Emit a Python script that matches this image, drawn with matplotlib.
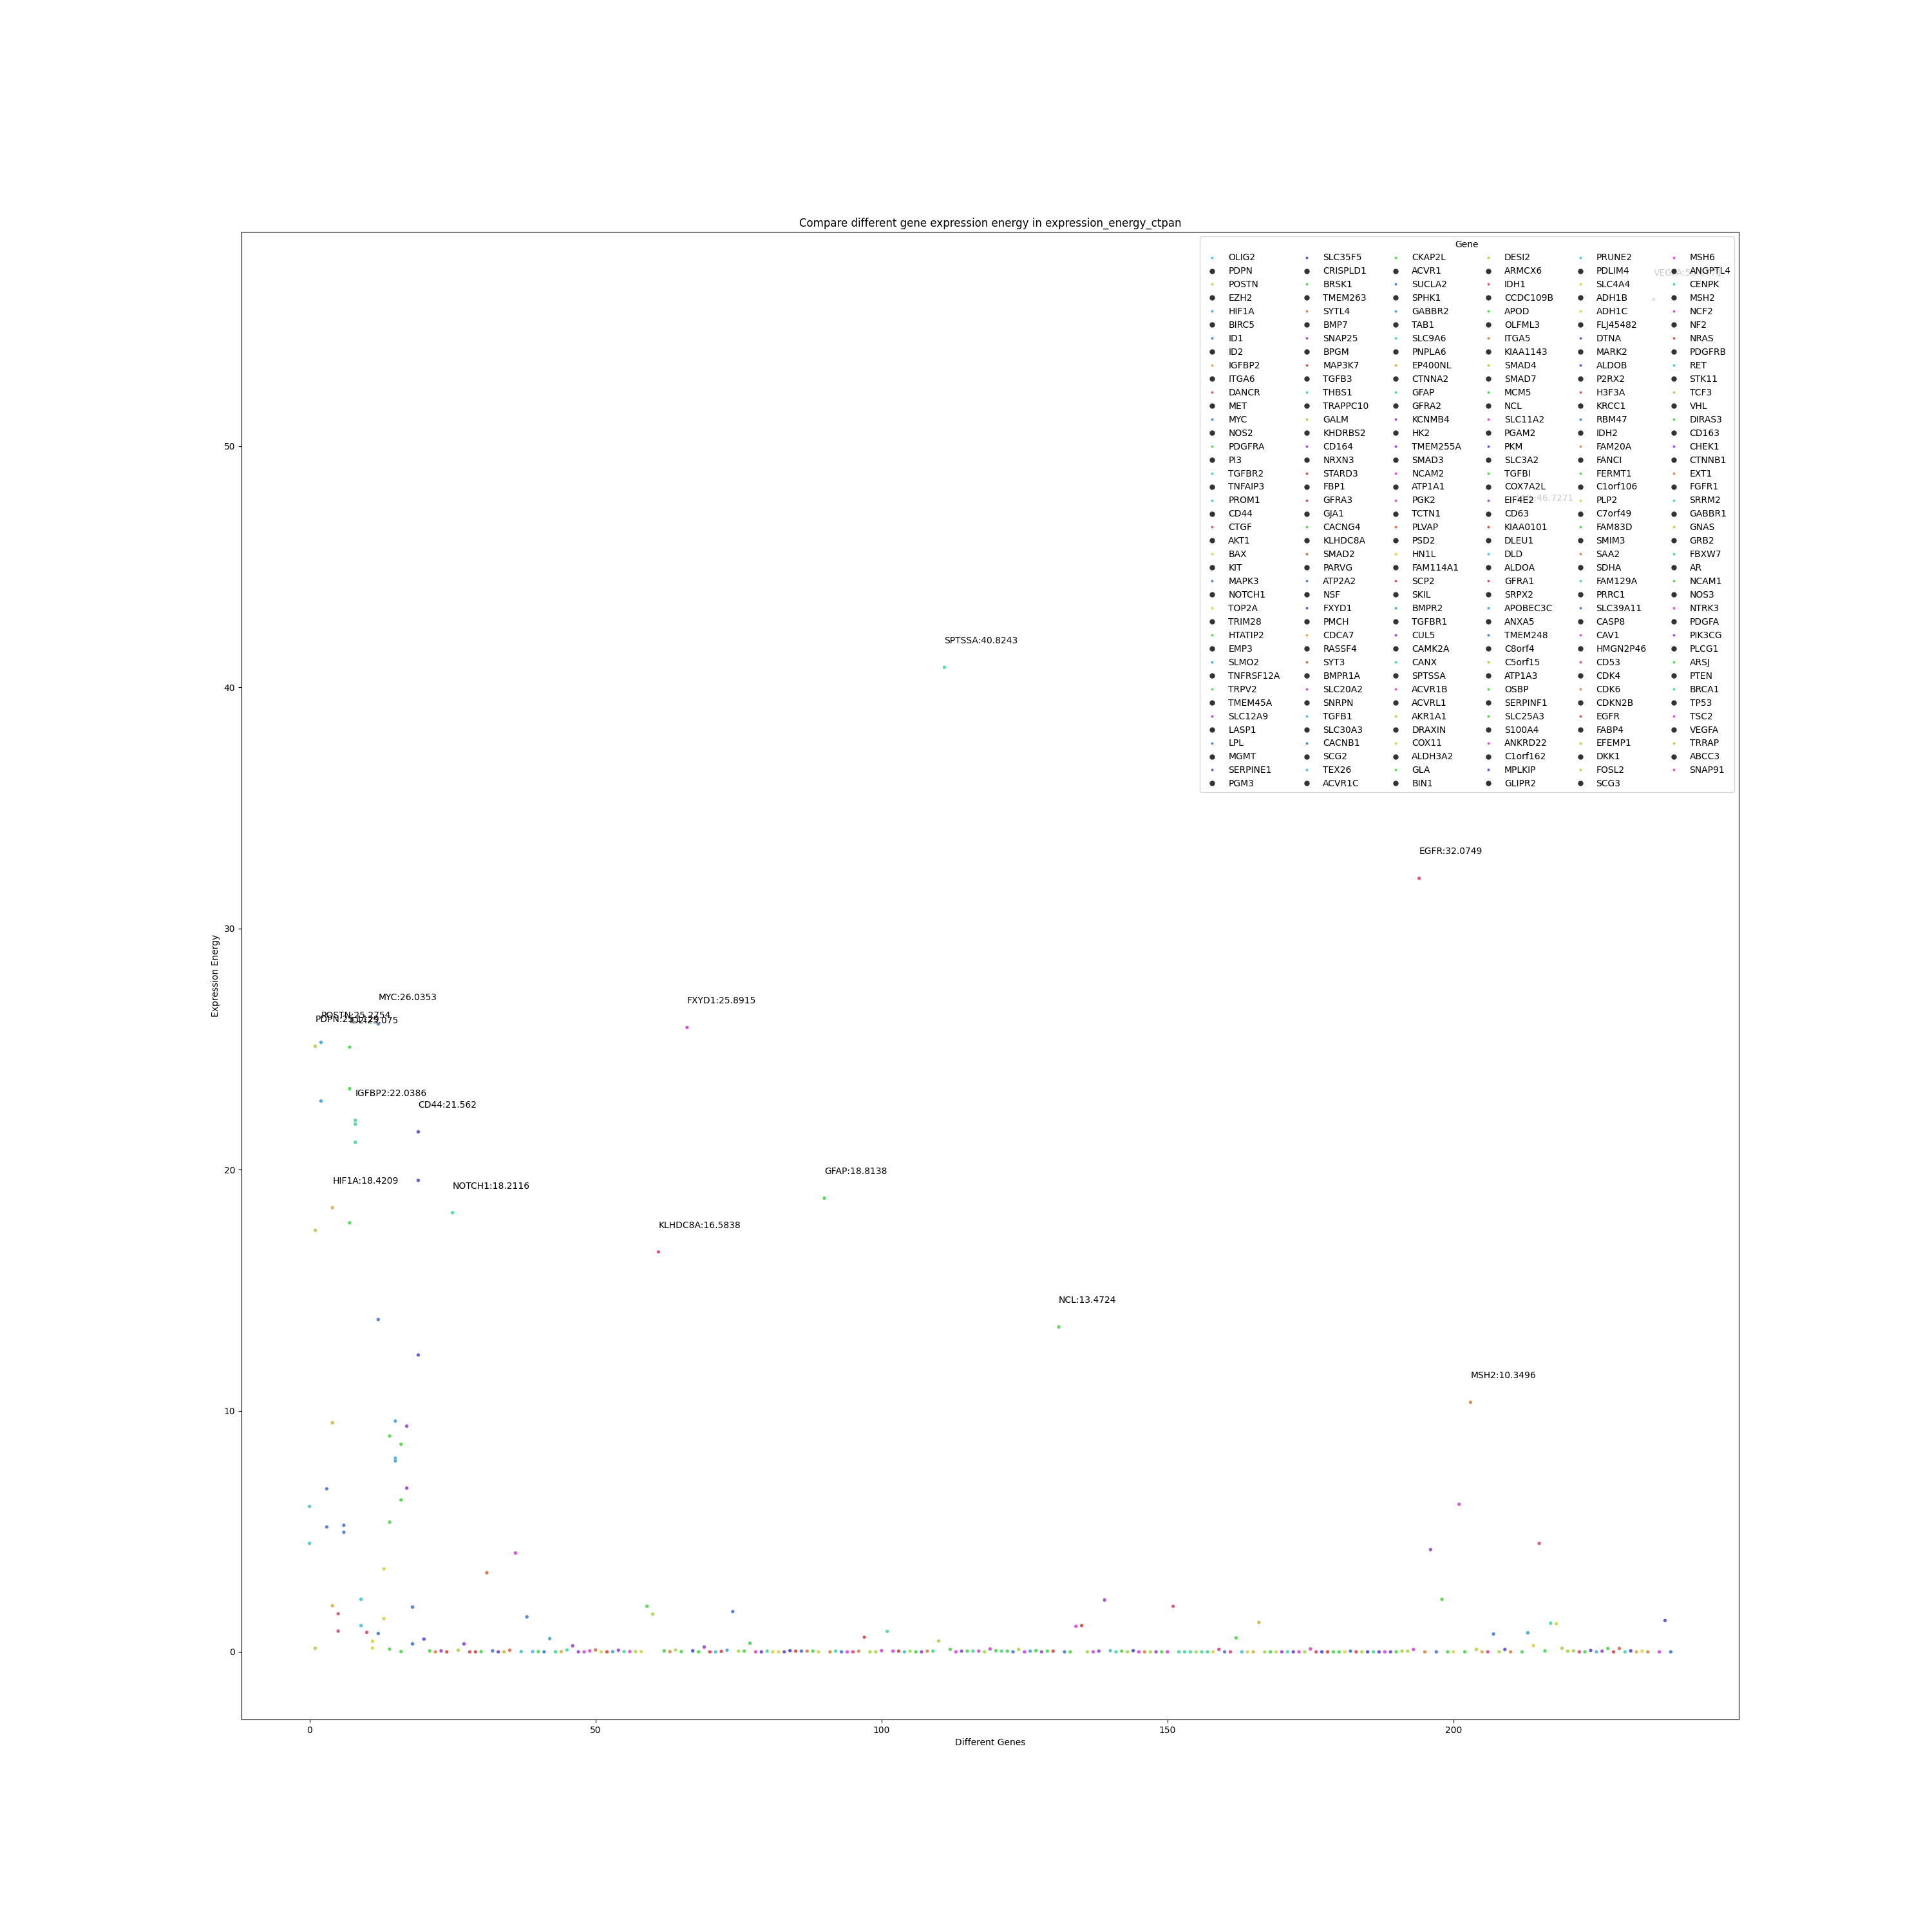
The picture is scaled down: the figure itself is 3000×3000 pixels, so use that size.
import colorsys
import matplotlib
matplotlib.use("Agg")
import matplotlib.pyplot as plt
from matplotlib.lines import Line2D

# ---------------- data ----------------
genes = [
    "OLIG2", "PDPN", "POSTN", "EZH2", "HIF1A", "BIRC5", "ID1", "ID2", "IGFBP2", "ITGA6",
    "DANCR", "MET", "MYC", "NOS2", "PDGFRA", "PI3", "TGFBR2", "TNFAIP3", "PROM1", "CD44",
    "CTGF", "AKT1", "BAX", "KIT", "MAPK3", "NOTCH1", "TOP2A", "TRIM28", "HTATIP2", "EMP3",
    "SLMO2", "TNFRSF12A", "TRPV2", "TMEM45A", "SLC12A9", "LASP1", "LPL", "MGMT", "SERPINE1", "PGM3",
    "SLC35F5", "CRISPLD1", "BRSK1", "TMEM263", "SYTL4", "BMP7", "SNAP25", "BPGM", "MAP3K7", "TGFB3",
    "THBS1", "TRAPPC10", "GALM", "KHDRBS2", "CD164", "NRXN3", "STARD3", "FBP1", "GFRA3", "GJA1",
    "CACNG4", "KLHDC8A", "SMAD2", "PARVG", "ATP2A2", "NSF", "FXYD1", "PMCH", "CDCA7", "RASSF4",
    "SYT3", "BMPR1A", "SLC20A2", "SNRPN", "TGFB1", "SLC30A3", "CACNB1", "SCG2", "TEX26", "ACVR1C",
    "CKAP2L", "ACVR1", "SUCLA2", "SPHK1", "GABBR2", "TAB1", "SLC9A6", "PNPLA6", "EP400NL", "CTNNA2",
    "GFAP", "GFRA2", "KCNMB4", "HK2", "TMEM255A", "SMAD3", "NCAM2", "ATP1A1", "PGK2", "TCTN1",
    "PLVAP", "PSD2", "HN1L", "FAM114A1", "SCP2", "SKIL", "BMPR2", "TGFBR1", "CUL5", "CAMK2A",
    "CANX", "SPTSSA", "ACVR1B", "ACVRL1", "AKR1A1", "DRAXIN", "COX11", "ALDH3A2", "GLA", "BIN1",
    "DESI2", "ARMCX6", "IDH1", "CCDC109B", "APOD", "OLFML3", "ITGA5", "KIAA1143", "SMAD4", "SMAD7",
    "MCM5", "NCL", "SLC11A2", "PGAM2", "PKM", "SLC3A2", "TGFBI", "COX7A2L", "EIF4E2", "CD63",
    "KIAA0101", "DLEU1", "DLD", "ALDOA", "GFRA1", "SRPX2", "APOBEC3C", "ANXA5", "TMEM248", "C8orf4",
    "C5orf15", "ATP1A3", "OSBP", "SERPINF1", "SLC25A3", "S100A4", "ANKRD22", "C1orf162", "MPLKIP", "GLIPR2",
    "PRUNE2", "PDLIM4", "SLC4A4", "ADH1B", "ADH1C", "FLJ45482", "DTNA", "MARK2", "ALDOB", "P2RX2",
    "H3F3A", "KRCC1", "RBM47", "IDH2", "FAM20A", "FANCI", "FERMT1", "C1orf106", "PLP2", "C7orf49",
    "FAM83D", "SMIM3", "SAA2", "SDHA", "FAM129A", "PRRC1", "SLC39A11", "CASP8", "CAV1", "HMGN2P46",
    "CD53", "CDK4", "CDK6", "CDKN2B", "EGFR", "FABP4", "EFEMP1", "DKK1", "FOSL2", "SCG3",
    "MSH6", "ANGPTL4", "CENPK", "MSH2", "NCF2", "NF2", "NRAS", "PDGFRB", "RET", "STK11",
    "TCF3", "VHL", "DIRAS3", "CD163", "CHEK1", "CTNNB1", "EXT1", "FGFR1", "SRRM2", "GABBR1",
    "GNAS", "GRB2", "FBXW7", "AR", "NCAM1", "NOS3", "NTRK3", "PDGFA", "PIK3CG", "PLCG1",
    "ARSJ", "PTEN", "BRCA1", "TP53", "TSC2", "VEGFA", "TRRAP", "ABCC3", "SNAP91",
]

# energy values observed for each gene (index = position in `genes`)
energy_by_gene = [
    [6.03, 4.50], [25.1129, 17.48, 0.15], [25.2754, 22.84], [6.76, 5.18], [18.4209, 9.50, 1.91],
    [1.58, 0.86], [5.25, 4.96], [25.075, 23.35, 17.79], [22.0386, 21.88, 21.13], [2.18, 1.09],
    [0.81], [0.44, 0.16], [26.0353, 13.78, 0.76], [3.44, 1.38], [8.95, 5.38, 0.11],
    [9.57, 8.03, 7.92], [8.61, 6.30, 0.01], [9.36, 6.79], [1.86, 0.33], [21.562, 19.55, 12.31],
    [0.53], [0.04], [0.0], [0.04], [0.0], [18.2116], [0.07], [0.33], [0.0], [0.0],
    [0.01], [3.28], [0.04], [0.0], [0.0], [0.07], [4.10], [0.01], [1.45], [0.01],
    [0.01], [0.0], [0.55], [0.0], [0.01], [0.08], [0.25], [0.0], [0.0], [0.04],
    [0.08], [0.0], [0.0], [0.01], [0.07], [0.01], [0.01], [0.01], [0.01], [1.89],
    [1.57], [16.5838], [0.04], [0.01], [0.08], [0.01], [25.8915], [0.04], [0.0], [0.20],
    [0.0], [0.0], [0.02], [0.07], [1.67], [0.03], [0.03], [0.36], [0.0], [0.0],
    [0.03], [0.0], [0.0], [0.0], [0.05], [0.03], [0.03], [0.03], [0.03], [0.0],
    [18.8138], [0.0], [0.03], [0.0], [0.0], [0.0], [0.03], [0.61], [0.0], [0.0],
    [0.05], [0.85], [0.03], [0.03], [0.0], [0.03], [0.0], [0.0], [0.03], [0.03],
    [0.45], [40.8243], [0.10], [0.0], [0.03], [0.03], [0.03], [0.03], [0.0], [0.12],
    [0.05], [0.03], [0.03], [0.0], [0.10], [0.0], [0.03], [0.05], [0.0], [0.03],
    [0.03], [13.4724], [0.0], [0.0], [1.06], [1.09], [0.0], [0.0], [0.03], [2.15],
    [0.05], [0.0], [0.03], [0.0], [0.05], [0.0], [0.0], [0.0], [0.0], [0.0],
    [0.0], [1.89], [0.0], [0.0], [0.0], [0.0], [0.0], [0.0], [0.0], [0.10],
    [0.0], [0.0], [0.58], [0.0], [0.0], [0.0], [1.22], [0.0], [0.0], [0.0],
    [0.0], [0.0], [0.0], [0.0], [0.0], [0.12], [0.0], [0.0], [0.0], [0.0],
    [0.0], [0.0], [0.03], [0.0], [0.0], [0.0], [0.0], [0.0], [0.0], [0.0],
    [0.0], [0.03], [0.03], [0.10], [32.0749], [0.0], [4.24], [0.0], [2.18], [0.0],
    [0.0], [6.12], [0.0], [10.3496], [0.10], [0.0], [0.0], [0.74], [0.0], [0.10],
    [0.0], [46.7271], [0.0], [0.79], [0.26], [4.50], [0.04], [1.19], [1.17], [0.15],
    [0.03], [0.04], [0.0], [0.0], [0.06], [0.0], [0.03], [0.14], [0.0], [0.14],
    [0.0], [0.04], [0.0], [0.03], [0.0], [56.0771], [0.0], [1.30], [0.0],
]

label_threshold = 10

# ---------------- style ----------------
color_codes = (
    "clsbgkbGtc" "kybyGsGpbv" "dGoprtlprr" "Gqbvgqmcbc" "Gbstgtppmm"
    "qyrsptmlyG" "lkGolGmdGp" "rcrsblGGmv" "tyyvdrboGy" "Gotbmkorll"
    "mtmrclGpot" "ltGmpGtmlm" "GtGblmsGpG" "rGbGmrlmpp" "ctGldmolpG"
    "mktttlttyk" "bkGcygglGy" "ptvmlmkdrG" "Gybrldtvmv" "GllmkopbGG"
    "ymGolgkblv" "okGsykGtyl" "llkGvcpGrq" "tdgyokmvb"
)
hue_deg = {"r": 0, "q": 14, "o": 27, "g": 44, "y": 58, "l": 80, "G": 118,
           "t": 155, "c": 190, "s": 202, "b": 220, "d": 238, "v": 252,
           "p": 272, "m": 300, "k": 335}


def code_color(ch):
    return colorsys.hls_to_rgb(hue_deg[ch] / 360.0, 0.6, 0.65)


gene_colors = [code_color(ch) for ch in color_codes]

plt.rcParams["font.family"] = ["DejaVu Sans"]
fig, ax = plt.subplots(figsize=(30, 30), dpi=100)

xs, ys, cs = [], [], []
for gi, vals in enumerate(energy_by_gene):
    for v in vals:
        xs.append(gi)
        ys.append(v)
        cs.append(gene_colors[gi])
ax.scatter(xs, ys, c=cs, s=18, edgecolors="white", linewidths=0.4)

for gi, vals in enumerate(energy_by_gene):
    peak = max(vals)
    if peak > label_threshold:
        ax.text(gi, peak + 1, f"{genes[gi]}:{peak}", fontsize=10)

handles = []
for k in range(len(genes)):
    if k % 2 == 0:
        handles.append(Line2D([], [], ls="", marker="o", markersize=3.2,
                              color=gene_colors[k // 2], markeredgecolor="white",
                              markeredgewidth=0.3))
    else:
        handles.append(Line2D([], [], ls="", marker="o", markersize=5,
                              color="#333333"))
ax.legend(handles, genes, title="Gene", ncol=6, loc="upper right")

ax.set_title("Compare different gene expression energy in expression_energy_ctpan")
ax.set_xlabel("Different Genes")
ax.set_ylabel("Expression Energy")

fig.savefig("out.png", dpi=100)
